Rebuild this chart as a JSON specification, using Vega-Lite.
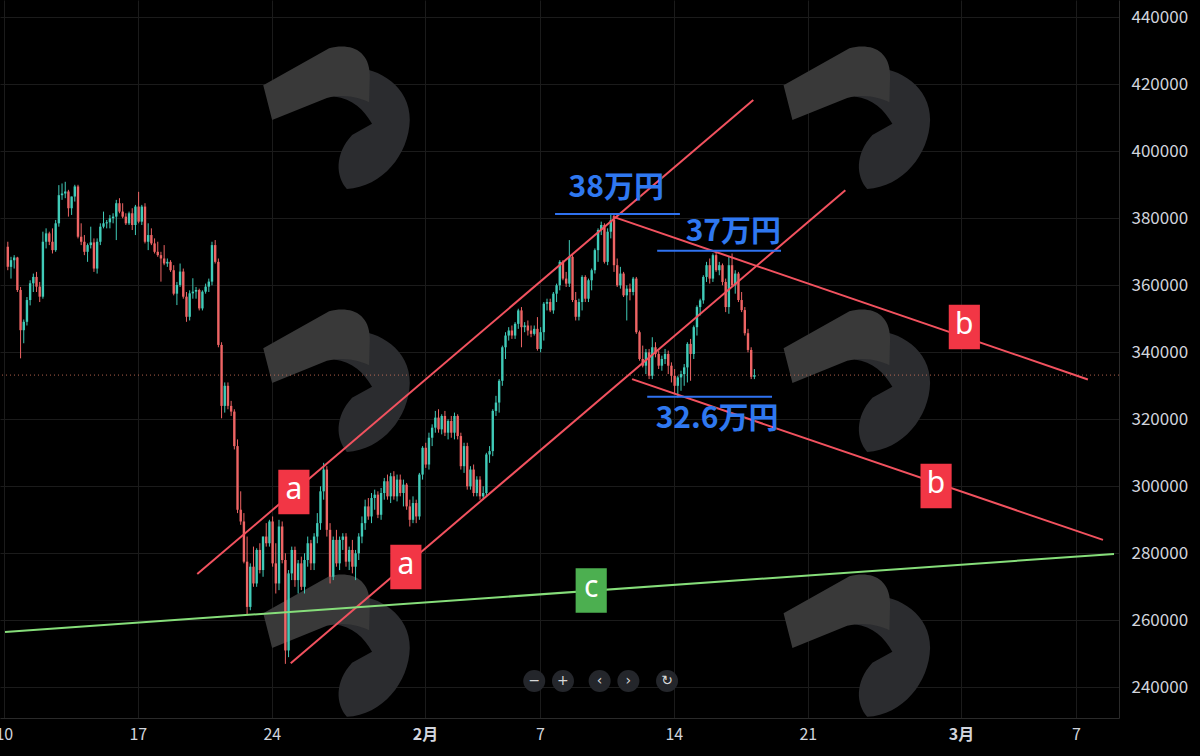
{
  "$schema": "https://vega.github.io/schema/vega-lite/v6.json",
  "width": 1119,
  "height": 718,
  "autosize": "none",
  "padding": {"left": 0, "top": 0, "right": 81, "bottom": 38},
  "background": "#000000",
  "config": {
    "view": {"stroke": null},
    "axis": {
      "labelFont": "Noto Sans CJK JP",
      "labelFontSize": 16,
      "labelColor": "#d1d4dc",
      "ticks": false,
      "grid": true,
      "gridColor": "#1b1b1b",
      "gridWidth": 1,
      "domainColor": "#2a2a2a",
      "labelOverlap": false
    },
    "axisX": {"labelPadding": 8},
    "axisY": {"labelPadding": 12, "labelAlign": "left", "labelFontSize": 17}
  },
  "datasets": {
    "logos": [
      {"t": "2022-01-27T10:58", "p": 410200},
      {"t": "2022-01-27T10:58", "p": 331700},
      {"t": "2022-01-27T10:58", "p": 252600},
      {"t": "2022-02-23T15:17", "p": 410200},
      {"t": "2022-02-23T15:17", "p": 331700},
      {"t": "2022-02-23T15:17", "p": 252600}
    ],
    "price": [{"p": 333200}],
    "candles": [
      {"t":"2022-01-10T05:00","o":371500,"h":373000,"l":364500,"c":365500},
      {"t":"2022-01-10T09:00","o":365500,"h":368500,"l":362000,"c":367500},
      {"t":"2022-01-10T13:00","o":367500,"h":369000,"l":365000,"c":368300},
      {"t":"2022-01-10T17:00","o":368300,"h":368500,"l":358000,"c":358600},
      {"t":"2022-01-10T21:00","o":358600,"h":359500,"l":338200,"c":346600},
      {"t":"2022-01-11T01:00","o":346600,"h":349800,"l":342700,"c":349100},
      {"t":"2022-01-11T05:00","o":349100,"h":356500,"l":348000,"c":355600},
      {"t":"2022-01-11T09:00","o":355600,"h":361500,"l":354000,"c":360600},
      {"t":"2022-01-11T13:00","o":360600,"h":363500,"l":358000,"c":362500},
      {"t":"2022-01-11T17:00","o":362500,"h":364000,"l":358000,"c":359600},
      {"t":"2022-01-11T21:00","o":359600,"h":361000,"l":355000,"c":356600},
      {"t":"2022-01-12T01:00","o":356600,"h":376000,"l":356000,"c":373000},
      {"t":"2022-01-12T05:00","o":373000,"h":377000,"l":371000,"c":375500},
      {"t":"2022-01-12T09:00","o":375500,"h":376000,"l":372000,"c":373000},
      {"t":"2022-01-12T13:00","o":373000,"h":377000,"l":369500,"c":370500},
      {"t":"2022-01-12T17:00","o":370500,"h":379500,"l":370000,"c":378500},
      {"t":"2022-01-12T21:00","o":378500,"h":389900,"l":377500,"c":386900},
      {"t":"2022-01-13T01:00","o":386900,"h":390400,"l":385500,"c":387400},
      {"t":"2022-01-13T05:00","o":387400,"h":390900,"l":386000,"c":388000},
      {"t":"2022-01-13T09:00","o":388000,"h":388500,"l":380500,"c":383000},
      {"t":"2022-01-13T13:00","o":383000,"h":386500,"l":381000,"c":386500},
      {"t":"2022-01-13T17:00","o":386500,"h":390000,"l":385000,"c":389500},
      {"t":"2022-01-13T21:00","o":389500,"h":390000,"l":374000,"c":374500},
      {"t":"2022-01-14T01:00","o":374500,"h":378500,"l":372000,"c":373000},
      {"t":"2022-01-14T05:00","o":373000,"h":375000,"l":369000,"c":370000},
      {"t":"2022-01-14T09:00","o":370000,"h":372500,"l":367000,"c":372000},
      {"t":"2022-01-14T13:00","o":372000,"h":377500,"l":371000,"c":372800},
      {"t":"2022-01-14T17:00","o":372800,"h":374000,"l":364000,"c":365000},
      {"t":"2022-01-14T21:00","o":365000,"h":374000,"l":363500,"c":373000},
      {"t":"2022-01-15T01:00","o":373000,"h":378500,"l":372000,"c":377500},
      {"t":"2022-01-15T05:00","o":377500,"h":382000,"l":377000,"c":378500},
      {"t":"2022-01-15T09:00","o":378500,"h":379500,"l":377000,"c":378800},
      {"t":"2022-01-15T13:00","o":378800,"h":381000,"l":377000,"c":380000},
      {"t":"2022-01-15T17:00","o":380000,"h":381500,"l":378500,"c":380500},
      {"t":"2022-01-15T21:00","o":380500,"h":385500,"l":373500,"c":384500},
      {"t":"2022-01-16T01:00","o":384500,"h":386000,"l":381500,"c":382000},
      {"t":"2022-01-16T05:00","o":382000,"h":384500,"l":380000,"c":380500},
      {"t":"2022-01-16T09:00","o":380500,"h":381500,"l":378000,"c":378500},
      {"t":"2022-01-16T13:00","o":378500,"h":382000,"l":378000,"c":381500},
      {"t":"2022-01-16T17:00","o":381500,"h":383000,"l":376500,"c":378000},
      {"t":"2022-01-16T21:00","o":378000,"h":384000,"l":375000,"c":383500},
      {"t":"2022-01-17T01:00","o":383500,"h":387900,"l":378500,"c":379000},
      {"t":"2022-01-17T05:00","o":379000,"h":384000,"l":378000,"c":383500},
      {"t":"2022-01-17T09:00","o":383500,"h":384500,"l":372500,"c":373000},
      {"t":"2022-01-17T13:00","o":373000,"h":378500,"l":370500,"c":375000},
      {"t":"2022-01-17T17:00","o":375000,"h":377000,"l":372000,"c":372500},
      {"t":"2022-01-17T21:00","o":372500,"h":374000,"l":369500,"c":370000},
      {"t":"2022-01-18T01:00","o":370000,"h":373000,"l":368500,"c":369000},
      {"t":"2022-01-18T05:00","o":369000,"h":370000,"l":361100,"c":368000},
      {"t":"2022-01-18T09:00","o":368000,"h":372000,"l":366000,"c":366500},
      {"t":"2022-01-18T13:00","o":366500,"h":368000,"l":365500,"c":367000},
      {"t":"2022-01-18T17:00","o":367000,"h":367500,"l":364000,"c":364500},
      {"t":"2022-01-18T21:00","o":364500,"h":366000,"l":357000,"c":357500},
      {"t":"2022-01-19T01:00","o":357500,"h":361000,"l":354100,"c":360100},
      {"t":"2022-01-19T05:00","o":360100,"h":366500,"l":359500,"c":364100},
      {"t":"2022-01-19T09:00","o":364100,"h":365000,"l":356000,"c":356600},
      {"t":"2022-01-19T13:00","o":356600,"h":358000,"l":349100,"c":350600},
      {"t":"2022-01-19T17:00","o":350600,"h":358500,"l":349500,"c":357600},
      {"t":"2022-01-19T21:00","o":357600,"h":362100,"l":356000,"c":358100},
      {"t":"2022-01-20T01:00","o":358100,"h":359500,"l":356000,"c":358600},
      {"t":"2022-01-20T05:00","o":358600,"h":359000,"l":352500,"c":353100},
      {"t":"2022-01-20T09:00","o":353100,"h":358500,"l":352500,"c":358100},
      {"t":"2022-01-20T13:00","o":358100,"h":360500,"l":357500,"c":359600},
      {"t":"2022-01-20T17:00","o":359600,"h":362000,"l":358000,"c":361100},
      {"t":"2022-01-20T21:00","o":361100,"h":373000,"l":360000,"c":372000},
      {"t":"2022-01-21T01:00","o":372000,"h":373500,"l":366500,"c":367000},
      {"t":"2022-01-21T05:00","o":367000,"h":368000,"l":341500,"c":342200},
      {"t":"2022-01-21T09:00","o":342200,"h":343000,"l":320300,"c":324000},
      {"t":"2022-01-21T13:00","o":324000,"h":331000,"l":322000,"c":330000},
      {"t":"2022-01-21T17:00","o":330000,"h":331000,"l":323000,"c":324000},
      {"t":"2022-01-21T21:00","o":324000,"h":325500,"l":321000,"c":322300},
      {"t":"2022-01-22T01:00","o":322300,"h":323000,"l":311000,"c":312000},
      {"t":"2022-01-22T05:00","o":312000,"h":314000,"l":292000,"c":293000},
      {"t":"2022-01-22T09:00","o":293000,"h":298500,"l":288500,"c":289500},
      {"t":"2022-01-22T13:00","o":289500,"h":292000,"l":277000,"c":277500},
      {"t":"2022-01-22T17:00","o":277500,"h":285000,"l":261500,"c":264000},
      {"t":"2022-01-22T21:00","o":264000,"h":277000,"l":263000,"c":276000},
      {"t":"2022-01-23T01:00","o":276000,"h":282000,"l":270000,"c":271000},
      {"t":"2022-01-23T05:00","o":271000,"h":281500,"l":270000,"c":281000},
      {"t":"2022-01-23T09:00","o":281000,"h":283000,"l":274000,"c":275000},
      {"t":"2022-01-23T13:00","o":275000,"h":285000,"l":273000,"c":285000},
      {"t":"2022-01-23T17:00","o":285000,"h":289000,"l":282000,"c":283000},
      {"t":"2022-01-23T21:00","o":283000,"h":290000,"l":282000,"c":289500},
      {"t":"2022-01-24T01:00","o":289500,"h":291000,"l":276000,"c":277000},
      {"t":"2022-01-24T05:00","o":277000,"h":283000,"l":268000,"c":271000},
      {"t":"2022-01-24T09:00","o":271000,"h":290000,"l":269000,"c":288000},
      {"t":"2022-01-24T13:00","o":288000,"h":289500,"l":277000,"c":278000},
      {"t":"2022-01-24T17:00","o":278000,"h":280000,"l":247000,"c":251000},
      {"t":"2022-01-24T21:00","o":251000,"h":275000,"l":249000,"c":274000},
      {"t":"2022-01-25T01:00","o":274000,"h":282000,"l":272000,"c":281000},
      {"t":"2022-01-25T05:00","o":281000,"h":282000,"l":270000,"c":272000},
      {"t":"2022-01-25T09:00","o":272000,"h":278000,"l":268000,"c":277000},
      {"t":"2022-01-25T13:00","o":277000,"h":279000,"l":269000,"c":270000},
      {"t":"2022-01-25T17:00","o":270000,"h":280000,"l":268000,"c":278000},
      {"t":"2022-01-25T21:00","o":278000,"h":285000,"l":276000,"c":283000},
      {"t":"2022-01-26T01:00","o":283000,"h":284000,"l":275000,"c":277000},
      {"t":"2022-01-26T05:00","o":277000,"h":286000,"l":275000,"c":285000},
      {"t":"2022-01-26T09:00","o":285000,"h":292000,"l":283000,"c":289000},
      {"t":"2022-01-26T13:00","o":289000,"h":300000,"l":287000,"c":298500},
      {"t":"2022-01-26T17:00","o":298500,"h":307000,"l":296000,"c":305000},
      {"t":"2022-01-26T21:00","o":305000,"h":306000,"l":285000,"c":287000},
      {"t":"2022-01-27T01:00","o":287000,"h":289000,"l":271000,"c":273000},
      {"t":"2022-01-27T05:00","o":273000,"h":285000,"l":272000,"c":284000},
      {"t":"2022-01-27T09:00","o":284000,"h":287000,"l":276000,"c":277000},
      {"t":"2022-01-27T13:00","o":277000,"h":285000,"l":275000,"c":284000},
      {"t":"2022-01-27T17:00","o":284000,"h":286000,"l":281000,"c":285000},
      {"t":"2022-01-27T21:00","o":285000,"h":286000,"l":276000,"c":277500},
      {"t":"2022-01-28T01:00","o":277500,"h":282000,"l":275000,"c":281000},
      {"t":"2022-01-28T05:00","o":281000,"h":284000,"l":274000,"c":276000},
      {"t":"2022-01-28T09:00","o":276000,"h":281000,"l":272000,"c":280000},
      {"t":"2022-01-28T13:00","o":280000,"h":286000,"l":278000,"c":285000},
      {"t":"2022-01-28T17:00","o":285000,"h":291000,"l":283000,"c":289000},
      {"t":"2022-01-28T21:00","o":289000,"h":296000,"l":287000,"c":294000},
      {"t":"2022-01-29T01:00","o":294000,"h":296500,"l":290000,"c":291000},
      {"t":"2022-01-29T05:00","o":291000,"h":298000,"l":289000,"c":296500},
      {"t":"2022-01-29T09:00","o":296500,"h":299000,"l":293000,"c":297500},
      {"t":"2022-01-29T13:00","o":297500,"h":298500,"l":290500,"c":291500},
      {"t":"2022-01-29T17:00","o":291500,"h":299500,"l":290000,"c":298000},
      {"t":"2022-01-29T21:00","o":298000,"h":302500,"l":296000,"c":301500},
      {"t":"2022-01-30T01:00","o":301500,"h":303500,"l":296000,"c":297000},
      {"t":"2022-01-30T05:00","o":297000,"h":304000,"l":295000,"c":303000},
      {"t":"2022-01-30T09:00","o":303000,"h":304500,"l":296000,"c":297000},
      {"t":"2022-01-30T13:00","o":297000,"h":303500,"l":295500,"c":302000},
      {"t":"2022-01-30T17:00","o":302000,"h":303500,"l":297000,"c":298000},
      {"t":"2022-01-30T21:00","o":298000,"h":302000,"l":294000,"c":300500},
      {"t":"2022-01-31T01:00","o":300500,"h":301000,"l":293000,"c":294000},
      {"t":"2022-01-31T05:00","o":294000,"h":296000,"l":288000,"c":290000},
      {"t":"2022-01-31T09:00","o":290000,"h":297000,"l":289000,"c":295000},
      {"t":"2022-01-31T13:00","o":295000,"h":296000,"l":289000,"c":291000},
      {"t":"2022-01-31T17:00","o":291000,"h":304000,"l":290000,"c":303500},
      {"t":"2022-01-31T21:00","o":303500,"h":312000,"l":302000,"c":311500},
      {"t":"2022-02-01T01:00","o":311500,"h":313000,"l":305500,"c":306500},
      {"t":"2022-02-01T05:00","o":306500,"h":316000,"l":305000,"c":314500},
      {"t":"2022-02-01T09:00","o":314500,"h":318500,"l":312000,"c":317500},
      {"t":"2022-02-01T13:00","o":317500,"h":322500,"l":316000,"c":320500},
      {"t":"2022-02-01T17:00","o":320500,"h":323000,"l":316000,"c":317000},
      {"t":"2022-02-01T21:00","o":317000,"h":321500,"l":315500,"c":321000},
      {"t":"2022-02-02T01:00","o":321000,"h":322500,"l":315000,"c":316000},
      {"t":"2022-02-02T05:00","o":316000,"h":320000,"l":314000,"c":319500},
      {"t":"2022-02-02T09:00","o":319500,"h":321000,"l":314500,"c":316000},
      {"t":"2022-02-02T13:00","o":316000,"h":322000,"l":314000,"c":321000},
      {"t":"2022-02-02T17:00","o":321000,"h":321500,"l":314000,"c":315000},
      {"t":"2022-02-02T21:00","o":315000,"h":316000,"l":305000,"c":306000},
      {"t":"2022-02-03T01:00","o":306000,"h":313000,"l":304000,"c":312000},
      {"t":"2022-02-03T05:00","o":312000,"h":313000,"l":299000,"c":300000},
      {"t":"2022-02-03T09:00","o":300000,"h":306000,"l":299000,"c":305000},
      {"t":"2022-02-03T13:00","o":305000,"h":306500,"l":297000,"c":298000},
      {"t":"2022-02-03T17:00","o":298000,"h":303000,"l":297000,"c":302000},
      {"t":"2022-02-03T21:00","o":302000,"h":303000,"l":296000,"c":297000},
      {"t":"2022-02-04T01:00","o":297000,"h":300000,"l":296000,"c":298000},
      {"t":"2022-02-04T05:00","o":298000,"h":310000,"l":297000,"c":309500},
      {"t":"2022-02-04T09:00","o":309500,"h":312000,"l":307000,"c":310500},
      {"t":"2022-02-04T13:00","o":310500,"h":323000,"l":309000,"c":322500},
      {"t":"2022-02-04T17:00","o":322500,"h":327000,"l":321000,"c":325000},
      {"t":"2022-02-04T21:00","o":325000,"h":332000,"l":322000,"c":331500},
      {"t":"2022-02-05T01:00","o":331500,"h":342000,"l":330000,"c":341500},
      {"t":"2022-02-05T05:00","o":341500,"h":346000,"l":338000,"c":345000},
      {"t":"2022-02-05T09:00","o":345000,"h":347500,"l":343500,"c":346500},
      {"t":"2022-02-05T13:00","o":346500,"h":348000,"l":344000,"c":345000},
      {"t":"2022-02-05T17:00","o":345000,"h":349000,"l":344000,"c":348500},
      {"t":"2022-02-05T21:00","o":348500,"h":353000,"l":347000,"c":352500},
      {"t":"2022-02-06T01:00","o":352500,"h":353500,"l":341500,"c":347500},
      {"t":"2022-02-06T05:00","o":347500,"h":349000,"l":346000,"c":348000},
      {"t":"2022-02-06T09:00","o":348000,"h":349500,"l":345000,"c":346500},
      {"t":"2022-02-06T13:00","o":346500,"h":348000,"l":344500,"c":345500},
      {"t":"2022-02-06T17:00","o":345500,"h":348000,"l":345000,"c":347000},
      {"t":"2022-02-06T21:00","o":347000,"h":350500,"l":340500,"c":341000},
      {"t":"2022-02-07T01:00","o":341000,"h":347500,"l":340000,"c":346000},
      {"t":"2022-02-07T05:00","o":346000,"h":355000,"l":343500,"c":354500},
      {"t":"2022-02-07T09:00","o":354500,"h":356000,"l":352500,"c":355000},
      {"t":"2022-02-07T13:00","o":355000,"h":356000,"l":352000,"c":352500},
      {"t":"2022-02-07T17:00","o":352500,"h":358000,"l":351500,"c":357500},
      {"t":"2022-02-07T21:00","o":357500,"h":360500,"l":355000,"c":360000},
      {"t":"2022-02-08T01:00","o":360000,"h":367500,"l":358500,"c":367000},
      {"t":"2022-02-08T05:00","o":367000,"h":367500,"l":361500,"c":362000},
      {"t":"2022-02-08T09:00","o":362000,"h":364000,"l":359500,"c":360500},
      {"t":"2022-02-08T13:00","o":360500,"h":373500,"l":359500,"c":368500},
      {"t":"2022-02-08T17:00","o":368500,"h":369000,"l":355000,"c":355600},
      {"t":"2022-02-08T21:00","o":355600,"h":358000,"l":349500,"c":350600},
      {"t":"2022-02-09T01:00","o":350600,"h":356000,"l":349500,"c":355000},
      {"t":"2022-02-09T05:00","o":355000,"h":363000,"l":352500,"c":362500},
      {"t":"2022-02-09T09:00","o":362500,"h":363000,"l":355000,"c":356000},
      {"t":"2022-02-09T13:00","o":356000,"h":362000,"l":355000,"c":361500},
      {"t":"2022-02-09T17:00","o":361500,"h":365000,"l":358500,"c":364500},
      {"t":"2022-02-09T21:00","o":364500,"h":371000,"l":363500,"c":370500},
      {"t":"2022-02-10T01:00","o":370500,"h":377000,"l":367000,"c":376500},
      {"t":"2022-02-10T05:00","o":376500,"h":379000,"l":375000,"c":378000},
      {"t":"2022-02-10T09:00","o":378000,"h":378500,"l":366500,"c":367000},
      {"t":"2022-02-10T13:00","o":367000,"h":377000,"l":366000,"c":376000},
      {"t":"2022-02-10T17:00","o":376000,"h":381000,"l":374000,"c":379500},
      {"t":"2022-02-10T21:00","o":379500,"h":381000,"l":364000,"c":366000},
      {"t":"2022-02-11T01:00","o":366000,"h":368000,"l":359500,"c":360000},
      {"t":"2022-02-11T05:00","o":360000,"h":365500,"l":359000,"c":363500},
      {"t":"2022-02-11T09:00","o":363500,"h":364000,"l":356500,"c":357000},
      {"t":"2022-02-11T13:00","o":357000,"h":360000,"l":349500,"c":359000},
      {"t":"2022-02-11T17:00","o":359000,"h":360500,"l":355500,"c":358000},
      {"t":"2022-02-11T21:00","o":358000,"h":362500,"l":357000,"c":362000},
      {"t":"2022-02-12T01:00","o":362000,"h":362500,"l":345500,"c":346000},
      {"t":"2022-02-12T05:00","o":346000,"h":346500,"l":337500,"c":338000},
      {"t":"2022-02-12T09:00","o":338000,"h":342000,"l":335500,"c":336000},
      {"t":"2022-02-12T13:00","o":336000,"h":341000,"l":333500,"c":340000},
      {"t":"2022-02-12T17:00","o":340000,"h":341000,"l":332000,"c":333000},
      {"t":"2022-02-12T21:00","o":333000,"h":344500,"l":332000,"c":341500},
      {"t":"2022-02-13T01:00","o":341500,"h":343000,"l":338500,"c":339500},
      {"t":"2022-02-13T05:00","o":339500,"h":340500,"l":335000,"c":336000},
      {"t":"2022-02-13T09:00","o":336000,"h":339000,"l":334500,"c":338000},
      {"t":"2022-02-13T13:00","o":338000,"h":341000,"l":336500,"c":339500},
      {"t":"2022-02-13T17:00","o":339500,"h":340500,"l":333500,"c":336000},
      {"t":"2022-02-13T21:00","o":336000,"h":337000,"l":331000,"c":333000},
      {"t":"2022-02-14T01:00","o":333000,"h":335000,"l":327500,"c":330000},
      {"t":"2022-02-14T05:00","o":330000,"h":333000,"l":326500,"c":332500},
      {"t":"2022-02-14T09:00","o":332500,"h":334500,"l":328500,"c":333500},
      {"t":"2022-02-14T13:00","o":333500,"h":336500,"l":330000,"c":335500},
      {"t":"2022-02-14T17:00","o":335500,"h":343000,"l":331000,"c":342500},
      {"t":"2022-02-14T21:00","o":342500,"h":344000,"l":331500,"c":339500},
      {"t":"2022-02-15T01:00","o":339500,"h":348000,"l":338000,"c":347500},
      {"t":"2022-02-15T05:00","o":347500,"h":354000,"l":345000,"c":353500},
      {"t":"2022-02-15T09:00","o":353500,"h":356000,"l":351000,"c":355500},
      {"t":"2022-02-15T13:00","o":355500,"h":363000,"l":354500,"c":362500},
      {"t":"2022-02-15T17:00","o":362500,"h":367000,"l":361000,"c":366000},
      {"t":"2022-02-15T21:00","o":366000,"h":368000,"l":360500,"c":362000},
      {"t":"2022-02-16T01:00","o":362000,"h":369500,"l":361000,"c":369000},
      {"t":"2022-02-16T05:00","o":369000,"h":370000,"l":364000,"c":364500},
      {"t":"2022-02-16T09:00","o":364500,"h":367000,"l":363000,"c":366000},
      {"t":"2022-02-16T13:00","o":366000,"h":366500,"l":360000,"c":361000},
      {"t":"2022-02-16T17:00","o":361000,"h":362000,"l":352000,"c":353500},
      {"t":"2022-02-16T21:00","o":353500,"h":368500,"l":351500,"c":366000},
      {"t":"2022-02-17T01:00","o":366000,"h":369500,"l":359500,"c":360000},
      {"t":"2022-02-17T05:00","o":360000,"h":364500,"l":357500,"c":363500},
      {"t":"2022-02-17T09:00","o":363500,"h":364000,"l":355000,"c":355600},
      {"t":"2022-02-17T13:00","o":355600,"h":358000,"l":352000,"c":352600},
      {"t":"2022-02-17T17:00","o":352600,"h":353500,"l":345000,"c":345700},
      {"t":"2022-02-17T21:00","o":345700,"h":347000,"l":340000,"c":340700},
      {"t":"2022-02-18T01:00","o":340700,"h":341500,"l":332000,"c":332700},
      {"t":"2022-02-18T05:00","o":332700,"h":335000,"l":332000,"c":333200}
    ],
    "lines": [
      {"k": "a", "t": "2022-01-20T02:31", "p": 273800, "t2": "2022-02-18T03:36", "p2": 415300},
      {"k": "a", "t": "2022-01-24T23:43", "p": 247200, "t2": "2022-02-22T23:03", "p2": 388400},
      {"k": "b", "t": "2022-02-10T19:26", "p": 380500, "t2": "2022-03-07T15:07", "p2": 331900},
      {"k": "b", "t": "2022-02-11T19:40", "p": 332000, "t2": "2022-03-08T10:05", "p2": 284000},
      {"k": "c", "t": "2022-01-10T01:29", "p": 256500, "t2": "2022-03-08T23:51", "p2": 279800},
      {"k": "level", "t": "2022-02-07T19:05", "p": 381300, "t2": "2022-02-14T07:38", "p2": 381300},
      {"k": "level", "t": "2022-02-13T03:07", "p": 370300, "t2": "2022-02-19T14:24", "p2": 370300},
      {"k": "level", "t": "2022-02-12T14:38", "p": 326700, "t2": "2022-02-19T03:07", "p2": 326700}
    ],
    "boxes": [
      {"k": "a", "t": "2022-01-25T03:40", "p": 298300, "txt": "a"},
      {"k": "a", "t": "2022-01-31T00:04", "p": 275900, "txt": "a"},
      {"k": "b", "t": "2022-03-01T04:13", "p": 347550, "txt": "b"},
      {"k": "b", "t": "2022-02-27T16:48", "p": 300100, "txt": "b"},
      {"k": "c", "t": "2022-02-09T16:25", "p": 268900, "txt": "c"}
    ],
    "labels": [
      {"t": "2022-02-10T23:50", "p": 389000, "txt": "38万円"},
      {"t": "2022-02-17T02:38", "p": 376000, "txt": "37万円"},
      {"t": "2022-02-16T06:14", "p": 320100, "txt": "32.6万円"}
    ],
    "nav": [
      {"t": "2022-02-06T17:00", "p": 241900, "s": "−"},
      {"t": "2022-02-08T05:01", "p": 241900, "s": "+"},
      {"t": "2022-02-10T02:59", "p": 241900, "s": "‹"},
      {"t": "2022-02-11T15:01", "p": 241900, "s": "›"},
      {"t": "2022-02-13T15:29", "p": 241900, "s": "↻"}
    ]
  },
  "layer": [
    {
      "data": {"name": "logos"},
      "mark": {
        "type": "point",
        "shape": "M-0.05,-0.6 C0.25,-0.8 0.98,-0.55 0.97,0.04 C0.96,0.5 0.6,0.95 0.12,0.97 C-0.03,0.8 -0.05,0.5 0.19,0.24 L0.46,0.09 C0.35,-0.1 0.2,-0.25 -0.05,-0.28 Z",
        "filled": true,
        "size": 21904,
        "color": "#2b2c2f",
        "opacity": 1,
        "strokeWidth": 0,
        "clip": true
      },
      "encoding": {
        "x": {
          "field": "t",
          "type": "temporal",
          "title": null,
          "scale": {
            "domain": [
              {"year": 2022, "month": 1, "date": 10, "hours": 1, "minutes": 29},
              {"year": 2022, "month": 3, "date": 8, "hours": 23, "minutes": 51}
            ]
          },
          "axis": {
            "orient": "bottom",
            "labelFlush": false,
            "labelAlign": "center",
            "values": [
              {"year": 2022, "month": 1, "date": 10},
              {"year": 2022, "month": 1, "date": 17},
              {"year": 2022, "month": 1, "date": 24},
              {"year": 2022, "month": 2, "date": 1},
              {"year": 2022, "month": 2, "date": 7},
              {"year": 2022, "month": 2, "date": 14},
              {"year": 2022, "month": 2, "date": 21},
              {"year": 2022, "month": 3, "date": 1},
              {"year": 2022, "month": 3, "date": 7}
            ],
            "labelExpr": "date(datum.value) == 1 ? (month(datum.value) + 1) + '月' : '' + date(datum.value)",
            "labelFontWeight": {"condition": {"test": "date(datum.value) == 1", "value": "bold"}, "value": "normal"}
          }
        },
        "y": {
          "field": "p",
          "type": "quantitative",
          "title": null,
          "scale": {"domain": [230836, 445164], "nice": false, "zero": false},
          "axis": {
            "orient": "right",
            "labelFlush": false,
            "values": [240000, 260000, 280000, 300000, 320000, 340000, 360000, 380000, 400000, 420000, 440000],
            "format": "d"
          }
        }
      }
    },
    {
      "data": {"name": "logos"},
      "mark": {
        "type": "point",
        "shape": "M-1.01,-0.43 L-0.12,-0.93 C0.15,-1 0.42,-0.92 0.43,-0.57 L0.42,-0.2 C0.3,-0.26 0.1,-0.32 -0.15,-0.26 L-0.89,0.04 Z",
        "filled": true,
        "size": 21904,
        "color": "#393939",
        "opacity": 1,
        "strokeWidth": 0,
        "clip": true
      },
      "encoding": {
        "x": {"field": "t", "type": "temporal", "title": null},
        "y": {"field": "p", "type": "quantitative", "title": null}
      }
    },
    {
      "data": {"name": "price"},
      "mark": {"type": "rule", "color": "#d9775c", "strokeWidth": 1, "strokeDash": [1, 3], "opacity": 0.8},
      "encoding": {"y": {"field": "p", "type": "quantitative", "title": null}}
    },
    {
      "data": {"name": "candles"},
      "mark": {"type": "rule", "strokeWidth": 1},
      "encoding": {
        "x": {"field": "t", "type": "temporal", "title": null},
        "y": {"field": "l", "type": "quantitative", "title": null},
        "y2": {"field": "h"},
        "color": {"condition": {"test": "datum.c >= datum.o", "value": "#40cbb8"}, "value": "#ee6464"}
      }
    },
    {
      "data": {"name": "candles"},
      "mark": {"type": "bar", "width": 2.4},
      "encoding": {
        "x": {"field": "t", "type": "temporal", "title": null},
        "y": {"field": "o", "type": "quantitative", "title": null},
        "y2": {"field": "c"},
        "color": {"condition": {"test": "datum.c >= datum.o", "value": "#40cbb8"}, "value": "#ee6464"}
      }
    },
    {
      "data": {"name": "lines", "format": {"parse": {"t": "date", "t2": "date"}}},
      "mark": {"type": "rule", "strokeWidth": 2, "clip": true},
      "encoding": {
        "x": {"field": "t", "type": "temporal", "title": null},
        "x2": {"field": "t2"},
        "y": {"field": "p", "type": "quantitative", "title": null},
        "y2": {"field": "p2"},
        "stroke": {
          "field": "k",
          "type": "nominal",
          "scale": {"domain": ["a", "b", "c", "level"], "range": ["#f2525f", "#f2525f", "#86de7a", "#2f72f0"]},
          "legend": null
        }
      }
    },
    {
      "data": {"name": "boxes"},
      "mark": {
        "type": "point",
        "shape": "M-0.7,-1 L0.7,-1 L0.7,1 L-0.7,1 Z",
        "filled": true,
        "size": 1980,
        "opacity": 1,
        "strokeWidth": 0
      },
      "encoding": {
        "x": {"field": "t", "type": "temporal", "title": null},
        "y": {"field": "p", "type": "quantitative", "title": null},
        "fill": {
          "field": "k",
          "type": "nominal",
          "scale": {"domain": ["a", "b", "c"], "range": ["#f23645", "#f23645", "#4caf50"]},
          "legend": null
        }
      }
    },
    {
      "data": {"name": "boxes"},
      "mark": {"type": "text", "font": "Noto Sans", "fontSize": 30, "color": "#ffffff", "align": "center", "baseline": "middle", "dy": -2},
      "encoding": {
        "x": {"field": "t", "type": "temporal", "title": null},
        "y": {"field": "p", "type": "quantitative", "title": null},
        "text": {"field": "txt"}
      }
    },
    {
      "data": {"name": "labels"},
      "mark": {"type": "text", "font": "Noto Sans CJK JP", "fontSize": 30, "fontWeight": "bold", "color": "#2f78f0", "align": "center", "baseline": "middle"},
      "encoding": {
        "x": {"field": "t", "type": "temporal", "title": null},
        "y": {"field": "p", "type": "quantitative", "title": null},
        "text": {"field": "txt"}
      }
    },
    {
      "data": {"name": "nav"},
      "mark": {"type": "point", "shape": "circle", "filled": true, "size": 484, "color": "#24262b", "opacity": 1, "strokeWidth": 0},
      "encoding": {
        "x": {"field": "t", "type": "temporal", "title": null},
        "y": {"field": "p", "type": "quantitative", "title": null}
      }
    },
    {
      "data": {"name": "nav"},
      "mark": {"type": "text", "font": "DejaVu Sans", "fontSize": 14, "color": "#d8d8d8", "align": "center", "baseline": "middle"},
      "encoding": {
        "x": {"field": "t", "type": "temporal", "title": null},
        "y": {"field": "p", "type": "quantitative", "title": null},
        "text": {"field": "s"}
      }
    }
  ]
}
